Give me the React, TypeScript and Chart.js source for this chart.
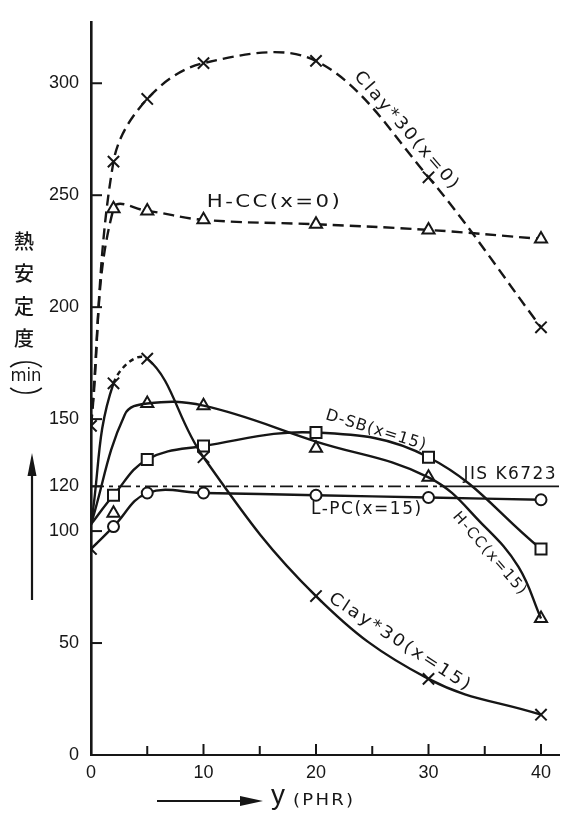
import React, { useEffect, useRef } from 'react';
import { Chart, registerables } from 'chart.js';

Chart.register(...registerables);

// y (PHR) at which each formulation was tested
const yPhr = [0, 2, 5, 10, 20, 30, 40];

// heat stability (min)
const clay30X0 = [147, 265, 293, 309, 310, 258, 191];
const hccX0 = [147, 244, 243, 239, 237, 234.5, 230.5];
const clay30X15 = [103, 166, 177, 133, 71, 34, 18];
const hccX15 = [103, 108, 157, 156, 137, 124, 61];
const dsbX15 = [103, 116, 132, 138, 144, 133, 92];
const lpcX15 = [92, 102, 117, 117, 116, 115, 114];

// hand-faired course of the H-CC (x=15) curve; it runs above the y=2 reading
const hccX15CurvePhr = [0, 3, 5, 10, 20, 30, 35, 38, 40];
const hccX15Curve = [103, 152, 157, 156, 140, 124, 102, 84, 61];

// JIS K6723 requirement
const jisLimit = 120;
const jisPhr = [0, 31, 41.6];

const xTicks = [0, 10, 20, 30, 40];
const xMinorTicks = [5, 15, 25, 35];
const yTicks = [0, 50, 100, 120, 150, 200, 250, 300];

const X_MAX = 41.6;
const Y_MAX = 327;
const INK = '#161616';

const notes = [
  { text: 'Clay*30(x=0)', x: 28.0, y: 279, angle: 49, size: 17, span: 150 },
  { text: 'H-CC(x=0)', x: 16.2, y: 247, angle: 0, size: 18, span: 133 },
  { text: 'D-SB(x=15)', x: 25.3, y: 145, angle: 17, size: 16, span: 104 },
  { text: 'JIS K6723', x: 37.2, y: 125.4, angle: 0, size: 17, span: 92 },
  { text: 'L-PC(x=15)', x: 24.45, y: 109.4, angle: 0, size: 17, span: 110 },
  { text: 'H-CC(x=15)', x: 35.4, y: 90, angle: 49, size: 15, span: 104 },
  { text: 'Clay*30(x=15)', x: 27.4, y: 50.5, angle: 33, size: 17, span: 165 },
];

const pts = (xs: number[], ys: number[]) => xs.map((x, i) => ({ x, y: ys[i] }));

const lineBase = {
  borderColor: INK,
  borderWidth: 2.4,
  pointBorderColor: INK,
  pointBackgroundColor: '#fff',
  pointBorderWidth: 2,
  tension: 0.4,
  fill: false,
};

// centred text, stretched to a given length along a given direction
function fitText(ctx: CanvasRenderingContext2D, text: string, cx: number, cy: number, angle: number, font: string, span: number) {
  ctx.save();
  ctx.translate(cx, cy);
  ctx.rotate((angle * Math.PI) / 180);
  ctx.font = font;
  ctx.textAlign = 'center';
  ctx.textBaseline = 'middle';
  const w = ctx.measureText(text).width;
  const gap = Math.max(0, Math.min(2, (span - w) / Math.max(1, text.length - 1)));
  (ctx as any).letterSpacing = `${gap}px`;
  const w2 = ctx.measureText(text).width - gap;
  ctx.scale(span / w2, 1);
  ctx.fillText(text, gap / 2, 0);
  ctx.restore();
}

const decorations = {
  id: 'decorations',
  afterDraw(chart: any) {
    const { ctx, chartArea } = chart;
    const xs = chart.scales.x;
    const ys = chart.scales.y;
    ctx.save();
    ctx.strokeStyle = INK;
    ctx.fillStyle = INK;
    ctx.lineWidth = 2;

    // inward tick marks
    yTicks.forEach((v) => {
      const py = ys.getPixelForValue(v);
      ctx.beginPath();
      ctx.moveTo(chartArea.left, py);
      ctx.lineTo(chartArea.left + 11, py);
      ctx.stroke();
    });
    [...xTicks, ...xMinorTicks].forEach((v) => {
      const px = xs.getPixelForValue(v);
      const len = xMinorTicks.includes(v) ? 9 : 11;
      ctx.beginPath();
      ctx.moveTo(px, chartArea.bottom);
      ctx.lineTo(px, chartArea.bottom - len);
      ctx.stroke();
    });

    // curve labels
    notes.forEach((n) => {
      fitText(ctx, n.text, xs.getPixelForValue(n.x), ys.getPixelForValue(n.y), n.angle,
        `${n.size}px "DejaVu Sans", "Liberation Sans", sans-serif`, n.span);
    });

    // y-axis title
    ctx.textAlign = 'center';
    ctx.textBaseline = 'middle';
    ctx.font = '500 20px "Noto Sans CJK JP", sans-serif';
    ['熱', '安', '定', '度'].forEach((ch, i) => ctx.fillText(ch, 24, 241 + i * 32.5));
    fitText(ctx, 'min', 26, 376, 0, '18px "DejaVu Sans", sans-serif', 31);
    ctx.lineWidth = 1.6;
    ctx.beginPath();
    ctx.ellipse(26, 372, 18, 10, 0, Math.PI * 1.16, Math.PI * 1.84);
    ctx.stroke();
    ctx.beginPath();
    ctx.ellipse(26, 383, 18, 10, 0, Math.PI * 0.16, Math.PI * 0.84);
    ctx.stroke();

    // upward arrow beside the y title
    ctx.lineWidth = 2.2;
    ctx.beginPath();
    ctx.moveTo(32, 600);
    ctx.lineTo(32, 468);
    ctx.stroke();
    ctx.beginPath();
    ctx.moveTo(32, 453);
    ctx.lineTo(27.5, 476);
    ctx.lineTo(36.5, 476);
    ctx.closePath();
    ctx.fill();

    // x-axis title with arrow
    ctx.lineWidth = 2;
    ctx.beginPath();
    ctx.moveTo(157, 801);
    ctx.lineTo(245, 801);
    ctx.stroke();
    ctx.beginPath();
    ctx.moveTo(263, 801);
    ctx.lineTo(240, 796);
    ctx.lineTo(240, 806);
    ctx.closePath();
    ctx.fill();
    ctx.textAlign = 'left';
    ctx.textBaseline = 'alphabetic';
    ctx.font = '28px "Liberation Sans", Arial, sans-serif';
    ctx.fillText('y', 271, 804);
    fitText(ctx, '(PHR)', 323, 801, 0, '16px "DejaVu Sans", sans-serif', 60);
    ctx.restore();
  },
};

export default function App() {
  const ref = useRef<HTMLCanvasElement>(null);

  useEffect(() => {
    const tickFont = { family: '"Liberation Sans", Arial, sans-serif', size: 18 };
    const chart = new Chart(ref.current as HTMLCanvasElement, {
      type: 'line',
      data: {
        datasets: [
          {
            ...lineBase,
            label: 'Clay#30 (x=0)',
            data: pts(yPhr, clay30X0),
            borderDash: [11, 6],
            tension: 0.35,
            pointStyle: 'crossRot',
            pointRadius: 8,
          },
          {
            ...lineBase,
            label: 'H-CC (x=0)',
            data: pts(yPhr, hccX0),
            borderDash: [11, 6],
            pointStyle: 'triangle',
            pointRadius: yPhr.map((_, i) => (i === 0 ? 0 : 7)),
          },
          {
            ...lineBase,
            label: 'Clay#30 (x=15)',
            data: pts(yPhr, clay30X15),
            pointStyle: 'crossRot',
            pointRadius: yPhr.map((_, i) => (i === 0 ? 0 : 8)),
            segment: {
              borderDash: (c: any) => (c.p0DataIndex === 1 ? [5, 4] : undefined),
            },
          },
          {
            ...lineBase,
            label: 'H-CC (x=15)',
            data: pts(hccX15CurvePhr, hccX15Curve),
            pointRadius: 0,
          },
          {
            ...lineBase,
            label: 'H-CC (x=15) readings',
            data: pts(yPhr, hccX15),
            showLine: false,
            pointStyle: 'triangle',
            pointRadius: yPhr.map((_, i) => (i === 0 ? 0 : 7)),
          },
          {
            ...lineBase,
            label: 'D-SB (x=15)',
            data: pts(yPhr, dsbX15),
            pointStyle: 'rect',
            pointRadius: yPhr.map((_, i) => (i === 0 ? 0 : 7.8)),
          },
          {
            ...lineBase,
            label: 'L-PC (x=15)',
            data: pts(yPhr, lpcX15),
            pointStyle: yPhr.map((_, i) => (i === 0 ? 'crossRot' : 'circle')) as any,
            pointRadius: yPhr.map((_, i) => (i === 0 ? 8 : 5.5)),
          },
          {
            label: 'JIS K6723',
            data: jisPhr.map((x) => ({ x, y: jisLimit })),
            borderColor: INK,
            borderWidth: 1.8,
            pointRadius: 0,
            tension: 0,
            borderDash: [13, 5, 4, 5],
            segment: {
              borderDash: (c: any) => (c.p0DataIndex === 1 ? [] : undefined),
            },
          },
        ],
      },
      options: {
        responsive: false,
        devicePixelRatio: 1,
        animation: false,
        events: [],
        layout: { padding: { left: 0, right: 2, top: 10, bottom: 0 } },
        plugins: {
          legend: { display: false },
          tooltip: { enabled: false },
        },
        scales: {
          x: {
            type: 'linear',
            min: 0,
            max: X_MAX,
            afterFit: (s: any) => {
              s.height = 58;
            },
            afterBuildTicks: (s: any) => {
              s.ticks = xTicks.map((value) => ({ value }));
            },
            grid: { display: false, drawTicks: false },
            border: { display: true, color: INK, width: 2 },
            ticks: { color: INK, font: tickFont, padding: 7, maxRotation: 0, autoSkip: false },
          },
          y: {
            type: 'linear',
            min: 0,
            max: Y_MAX,
            afterFit: (s: any) => {
              s.width = 91;
            },
            afterBuildTicks: (s: any) => {
              s.ticks = yTicks.map((value) => ({ value }));
            },
            grid: { display: false, drawTicks: false },
            border: { display: true, color: INK, width: 2.6 },
            ticks: { color: INK, font: tickFont, padding: 12, autoSkip: false },
          },
        },
      },
      plugins: [decorations],
    } as any);
    return () => chart.destroy();
  }, []);

  return (
    <div style={{ position: 'absolute', left: 0, top: 0, width: 569, height: 813, background: '#fff' }}>
      <canvas ref={ref} width={569} height={813} style={{ display: 'block' }} />
    </div>
  );
}
